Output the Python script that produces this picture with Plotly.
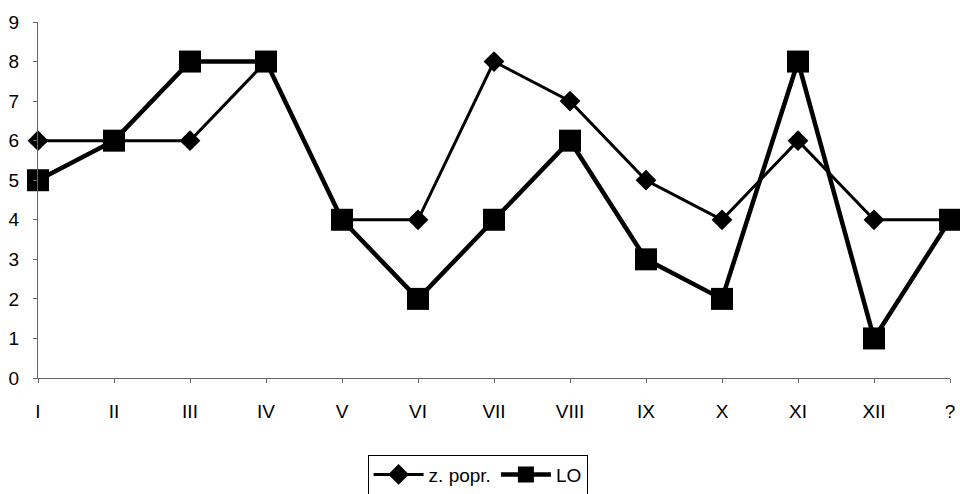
import plotly.graph_objects as go

categories = ["I", "II", "III", "IV", "V", "VI", "VII", "VIII", "IX", "X", "XI", "XII", "?"]
z_popr = [6, 6, 6, 8, 4, 4, 8, 7, 5, 4, 6, 4, 4]
lo = [5, 6, 8, 8, 4, 2, 4, 6, 3, 2, 8, 1, 4]
y_ticks = list(range(0, 10))

xi = list(range(len(categories)))

fig = go.Figure()
fig.add_trace(go.Scatter(
    x=xi, y=z_popr, name="z. popr.", mode="lines+markers",
    line=dict(color="black", width=3),
    marker=dict(symbol="diamond", size=16, color="black"),
    cliponaxis=False,
))
fig.add_trace(go.Scatter(
    x=xi, y=lo, name="LO", mode="lines+markers",
    line=dict(color="black", width=4.5),
    marker=dict(symbol="square", size=22, color="black"),
    cliponaxis=False,
))

fig.update_layout(
    width=960, height=494,
    margin=dict(l=38, r=10, t=22, b=116, autoexpand=False),
    paper_bgcolor="white", plot_bgcolor="white",
    font=dict(family="Liberation Sans, Arial, sans-serif", size=19, color="black"),
    showlegend=True,
    legend=dict(
        orientation="h", x=0.482, xanchor="center", y=-0.215, yanchor="top",
        bordercolor="black", borderwidth=1, font=dict(size=19),
        itemwidth=50,
    ),
    xaxis=dict(
        range=[0, 12], tickmode="array", tickvals=xi, ticktext=categories,
        showgrid=False, zeroline=False, showline=True, linecolor="#666666", linewidth=1,
        ticks="outside", ticklen=4, tickcolor="#666666", automargin=False,
        tickfont=dict(size=19), ticklabelstandoff=12,
    ),
    yaxis=dict(
        range=[0, 9], tickmode="array", tickvals=y_ticks,
        showgrid=False, zeroline=False, showline=True, linecolor="#666666", linewidth=1,
        ticks="outside", ticklen=4, tickcolor="#666666", automargin=False,
        tickfont=dict(size=19), ticklabelstandoff=10,
    ),
)

fig.write_html("out.html", config={"displayModeBar": False},
               post_script="document.body.style.margin='0';")
